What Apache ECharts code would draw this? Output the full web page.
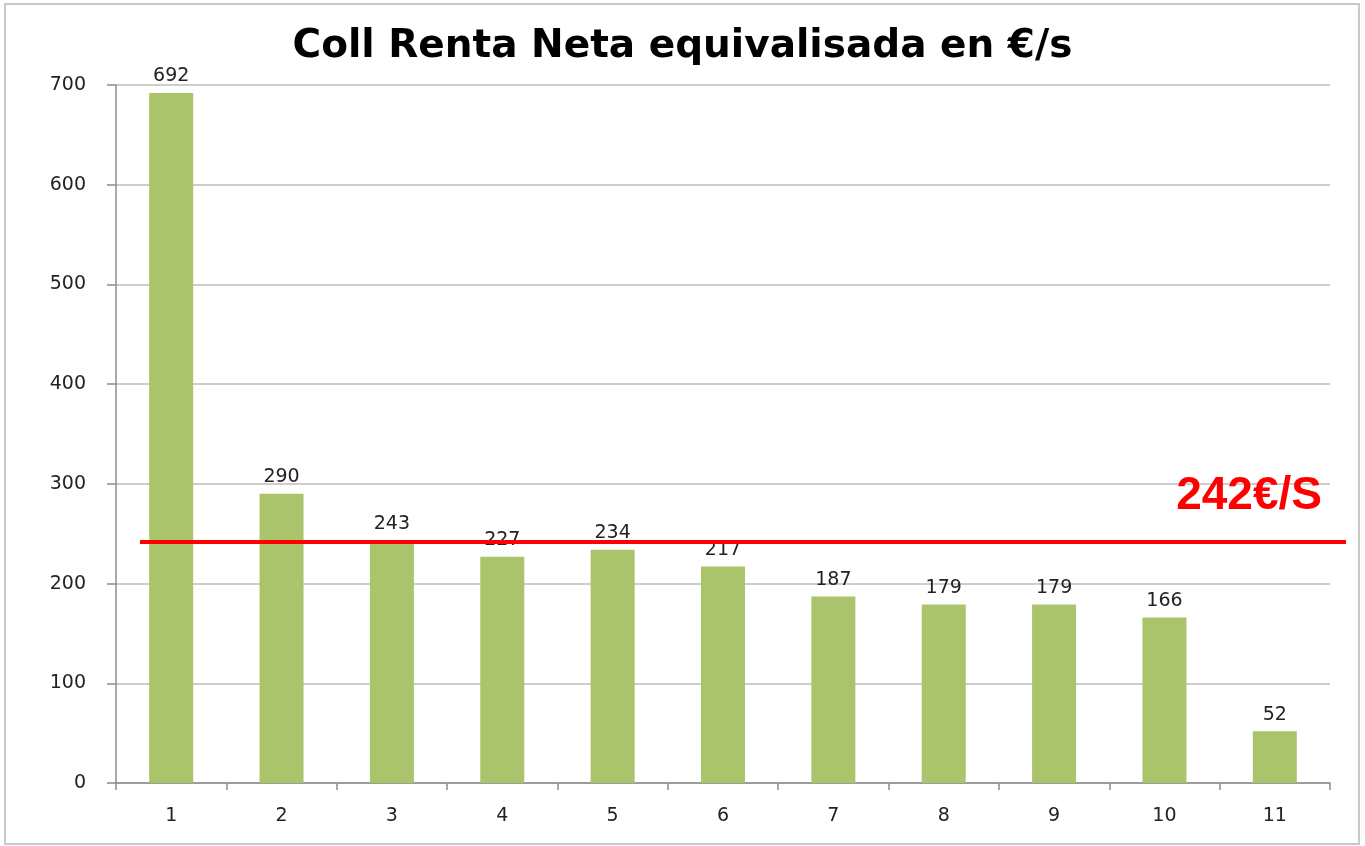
<!DOCTYPE html>
<html>
<head>
<meta charset="utf-8">
<script src="https://cdn.jsdelivr.net/npm/echarts@6/dist/echarts.min.js"></script>
<style>
html,body{margin:0;padding:0;background:#fff;}
#chart{width:1365px;height:846px;}
#frame{position:absolute;left:4px;top:3px;width:1352px;height:838px;border:2px solid #c8c8c8;pointer-events:none;}
</style>
</head>
<body>
<div id="chart"></div>
<div id="frame"></div>
<script>
const titleText = 'Coll Renta Neta equivalisada en €/s';
const categories = ['1','2','3','4','5','6','7','8','9','10','11'];
const values = [692, 290, 243, 227, 234, 217, 187, 179, 179, 166, 52];
const averageValue = 242;
const averageLabel = '242€/S';
const yTicks = {min: 0, max: 700, interval: 100};

const chart = echarts.init(document.getElementById('chart'));
chart.setOption({
  animation: false,
  backgroundColor: '#ffffff',
  title: {
    text: titleText,
    left: 'center',
    top: 22,
    textStyle: {fontFamily: 'DejaVu Sans', fontWeight: 'bold', fontSize: 39, color: '#000'}
  },
  grid: [
    {left: 116, right: 35, top: 85, bottom: 63},
    {left: 140, right: 19, top: 85, bottom: 63}
  ],
  xAxis: [
    {
      type: 'category', data: categories, gridIndex: 0,
      axisLine: {lineStyle: {color: '#8c8c8c', width: 1.5}},
      axisTick: {show: true, length: 7, lineStyle: {color: '#8c8c8c', width: 1.5}},
      axisLabel: {fontFamily: 'DejaVu Sans', fontSize: 19, color: '#222', margin: 24}
    },
    {type: 'value', gridIndex: 1, show: false, min: 0, max: 1}
  ],
  yAxis: [
    {
      type: 'value', gridIndex: 0, min: yTicks.min, max: yTicks.max, interval: yTicks.interval,
      axisLine: {show: true, lineStyle: {color: '#8c8c8c', width: 1.5}},
      axisTick: {show: true, length: 9, lineStyle: {color: '#8c8c8c', width: 1.5}},
      splitLine: {lineStyle: {color: '#bdbdbd', width: 1.5}},
      axisLabel: {fontFamily: 'DejaVu Sans', fontSize: 19, color: '#222', margin: 30}
    },
    {type: 'value', gridIndex: 1, show: false, min: yTicks.min, max: yTicks.max}
  ],
  series: [
    {
      type: 'bar', xAxisIndex: 0, yAxisIndex: 0,
      data: values,
      barWidth: 44,
      itemStyle: {color: '#a9c46b'},
      label: {show: true, position: 'top', distance: 7, fontFamily: 'DejaVu Sans', fontSize: 19, color: '#222'}
    },
    {
      type: 'line', xAxisIndex: 1, yAxisIndex: 1, data: [],
      markLine: {
        silent: true,
        symbol: 'none',
        lineStyle: {color: '#ff0000', width: 4, type: 'solid'},
        label: {
          show: true, position: 'insideEndTop', distance: [24, 22],
          formatter: averageLabel,
          fontFamily: 'Liberation Sans', fontWeight: 'bold', fontSize: 46, color: '#ff0000'
        },
        data: [{yAxis: averageValue}]
      }
    }
  ]
});
</script>
</body>
</html>
